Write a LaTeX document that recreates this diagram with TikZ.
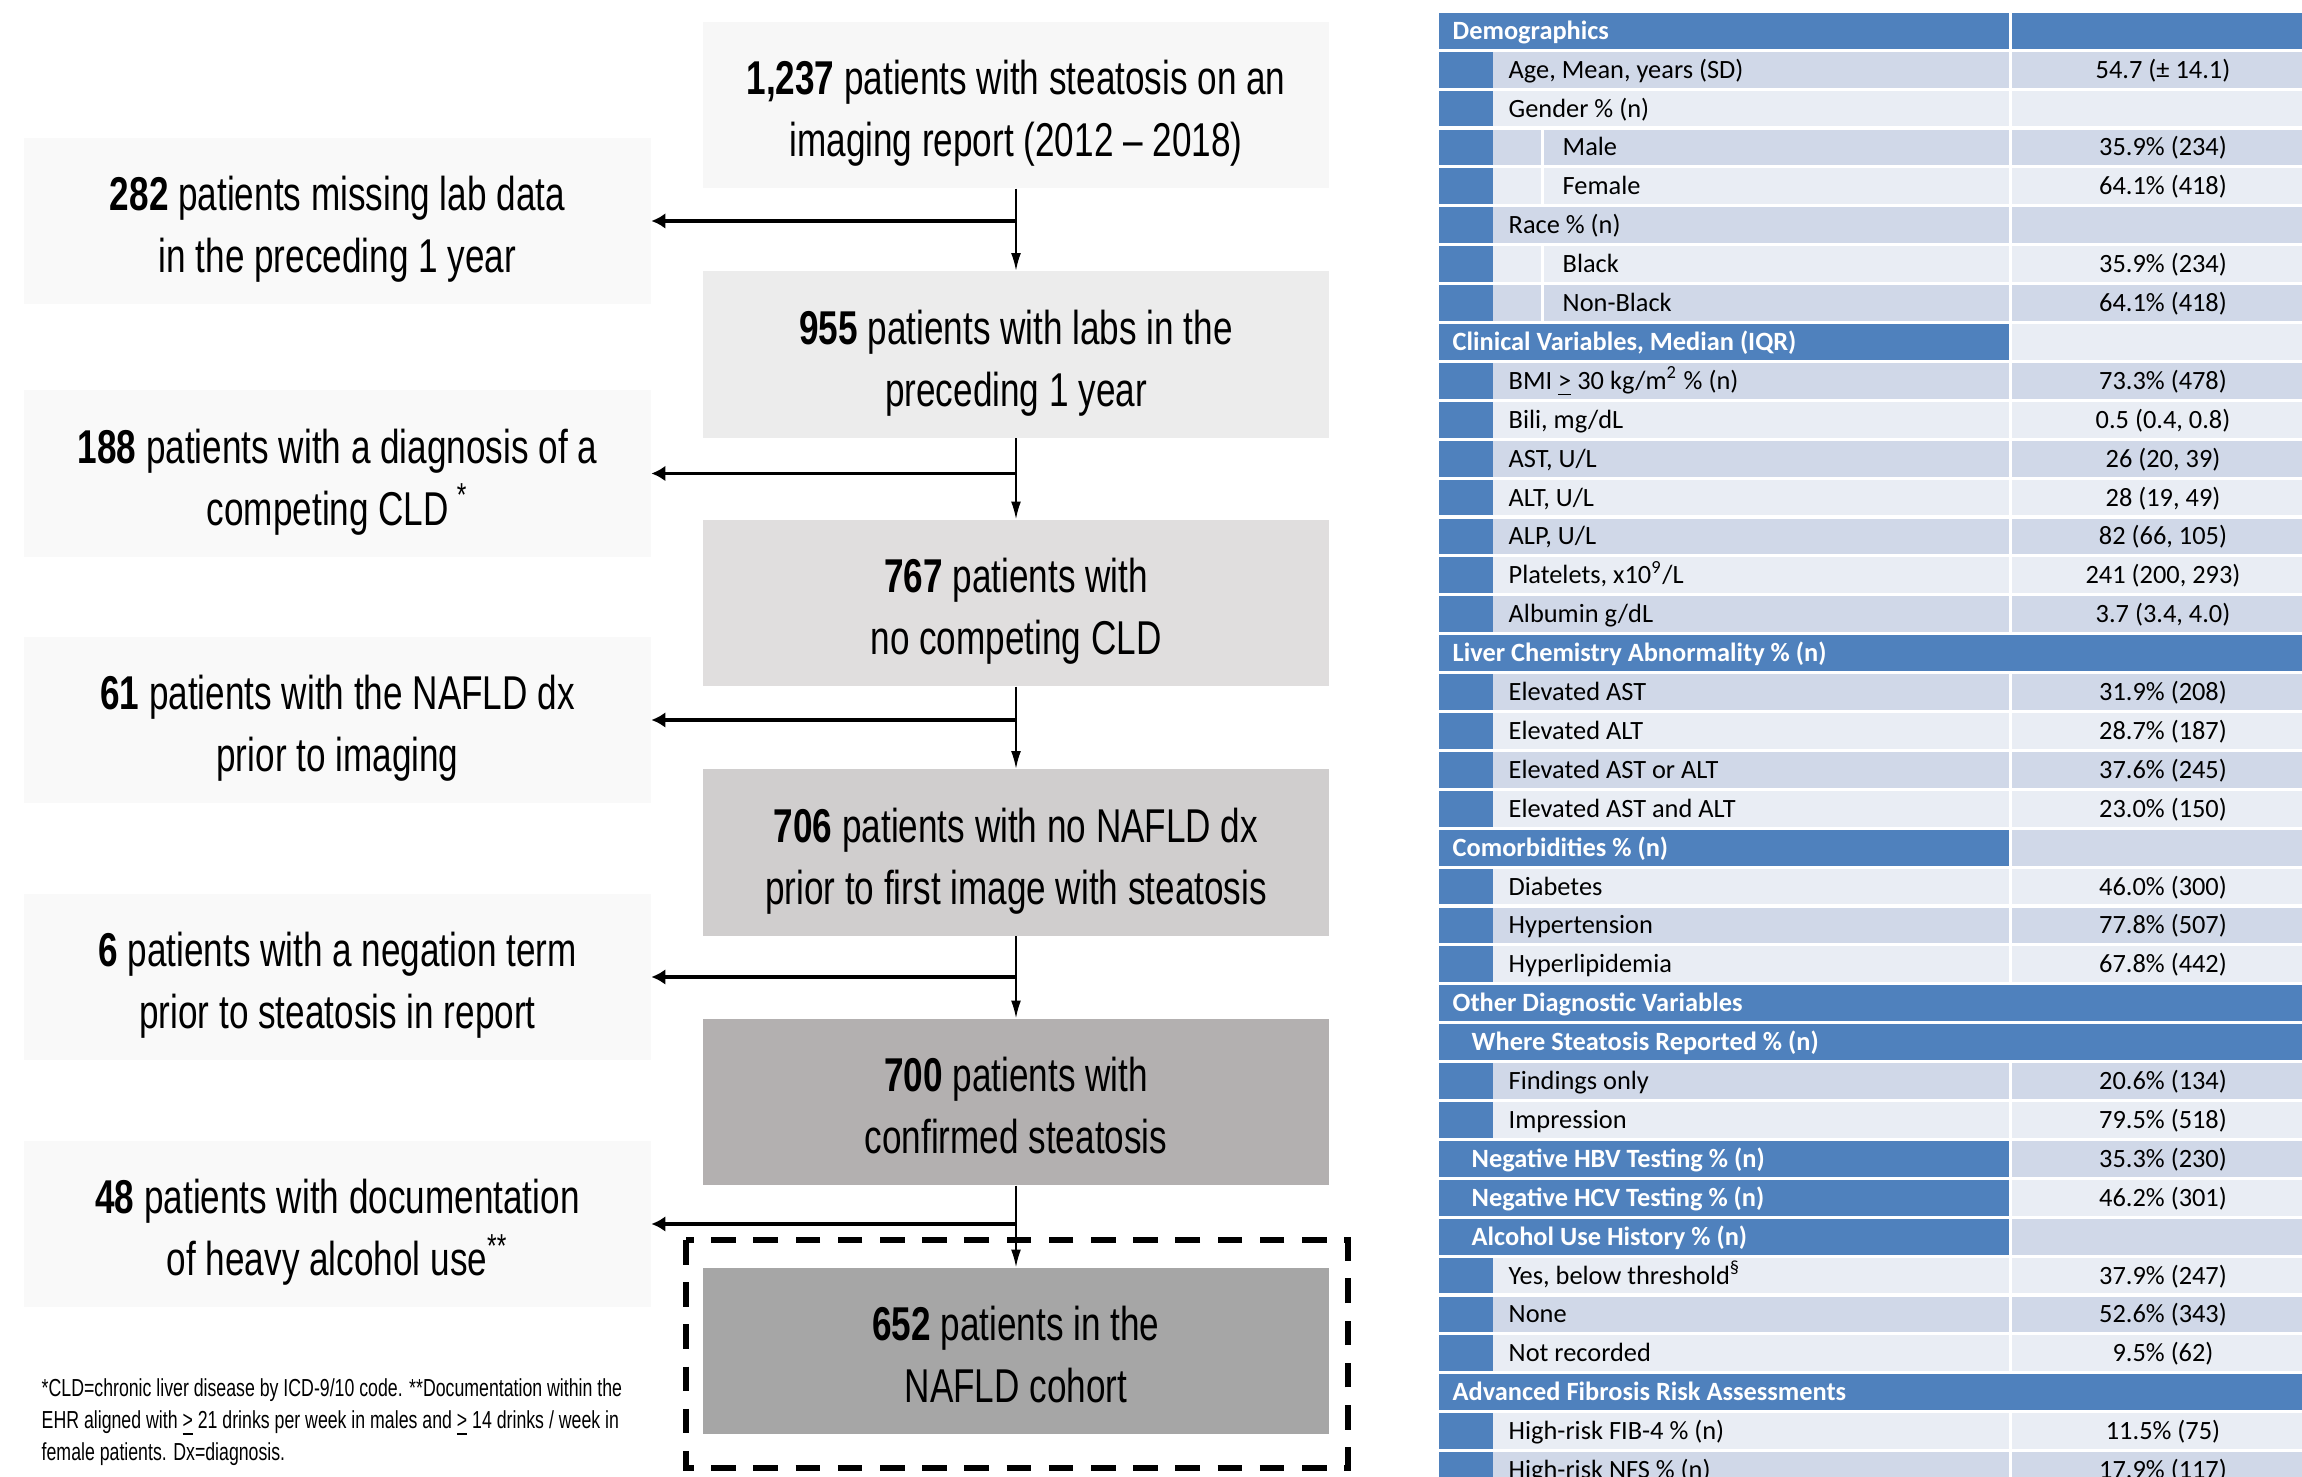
\documentclass[tikz,border=0pt]{standalone}
\usepackage{fontspec}
\usepackage{tikz}
\usetikzlibrary{arrows.meta, positioning}
\newfontfamily\flowfont{Liberation Sans}[FakeStretch=0.74]
\newfontfamily\notefont{Liberation Sans}[FakeStretch=0.72]
\newfontfamily\tabfont{Carlito}
\definecolor{stepA}{RGB}{247,247,247}
\definecolor{stepB}{RGB}{236,236,236}
\definecolor{stepC}{RGB}{224,222,222}
\definecolor{stepD}{RGB}{208,206,206}
\definecolor{stepE}{RGB}{179,176,176}
\definecolor{stepF}{RGB}{166,166,166}
\definecolor{exclgray}{RGB}{249,249,249}
\definecolor{hdrblue}{RGB}{79,129,189}
\definecolor{rowdark}{RGB}{208,216,232}
\definecolor{rowlight}{RGB}{233,237,244}

% table rows: #1 index, #2 shade, #3 level, #4 label, #5 value
\newcommand{\datarow}[5]{%
  \pgfmathsetmacro{\rowy}{30.8+38.9*#1}
  \fill[#2] (1439,\rowy-17.9) rectangle (2009,\rowy+17.9);
  \fill[#2] (2012,\rowy-17.9) rectangle (2302,\rowy+17.9);
  \fill[hdrblue] (1439,\rowy-17.9) rectangle (1493,\rowy+17.9);
  \ifnum#3=2
    \fill[white] (1541,\rowy-17.9) rectangle (1544,\rowy+17.9);
    \node[celltext] (lab#1) at (1562,\rowy+8.5) {#4};
  \else
    \node[celltext] (lab#1) at (1508,\rowy+8.5) {#4};
  \fi
  \node[valtext] (val#1) at (2163,\rowy+8.5) {#5};
}
% header rows: #1 index, #2 text x, #3 shade of value cell, #4 label
\newcommand{\hdrrow}[4]{%
  \pgfmathsetmacro{\rowy}{30.8+38.9*#1}
  \fill[hdrblue] (1439,\rowy-17.9) rectangle (2009,\rowy+17.9);
  \fill[#3] (2012,\rowy-17.9) rectangle (2302,\rowy+17.9);
  \node[hdrtext] (lab#1) at (#2,\rowy+8.5) {#4};
}
\newcommand{\spanrow}[3]{%
  \pgfmathsetmacro{\rowy}{30.8+38.9*#1}
  \fill[hdrblue] (1439,\rowy-17.9) rectangle (2302,\rowy+17.9);
  \node[hdrtext] (lab#1) at (#2,\rowy+8.5) {#3};
}

\begin{document}
\begin{tikzpicture}[
  x=0.01cm, y=-0.01cm,
  flowbox/.style={minimum width=6.26cm, minimum height=1.66cm,
    inner sep=0pt, align=center, text height=29.5pt, text depth=0pt,
    font=\flowfont\fontsize{13.5}{17.6}\selectfont},
  stepbox/.style={flowbox},
  exclbox/.style={flowbox, fill=exclgray},
  vline/.style={line width=0.5pt, -{Latex[length=5pt,width=2.8pt]}},
  hline/.style={line width=1pt, -{Latex[length=4pt,width=4.5pt]}},
  cohortframe/.style={line width=1.8pt, dash pattern=on 7pt off 5pt},
  celltext/.style={anchor=base west, inner sep=0pt,
    font=\tabfont\fontsize{7.5}{9}\selectfont},
  hdrtext/.style={celltext, text=white,
    font=\tabfont\bfseries\fontsize{7.5}{9}\selectfont},
  valtext/.style={anchor=base, inner sep=0pt,
    font=\tabfont\fontsize{7.5}{9}\selectfont}
  ]
  \useasboundingbox (0,0) rectangle (2302,1477);

  % main flow
  \node[stepbox, fill=stepA] (total) at (1016,105)
    {\textbf{1,237} patients with steatosis on an\\imaging report (2012 – 2018)};
  \node[stepbox, fill=stepB] (labs) at (1016,354.5)
    {\textbf{955} patients with labs in the\\preceding 1 year};
  \node[stepbox, fill=stepC] (nocld) at (1016,603)
    {\textbf{767} patients with\\no competing CLD};
  \node[stepbox, fill=stepD] (nonafld) at (1016,852.5)
    {\textbf{706} patients with no NAFLD dx\\prior to first image with steatosis};
  \node[stepbox, fill=stepE] (confirmed) at (1016,1102)
    {\textbf{700} patients with\\confirmed steatosis};
  \node[stepbox, fill=stepF] (cohort) at (1016,1351)
    {\textbf{652} patients in the\\NAFLD cohort};

  % exclusions
  \node[exclbox] (misslab) at (337.5,221)
    {\textbf{282} patients missing lab data\\in the preceding 1 year};
  \node[exclbox] (cld) at (337.5,473.5)
    {\textbf{188} patients with a diagnosis of a\\competing CLD\,\textsuperscript{*}};
  \node[exclbox] (priordx) at (337.5,720)
    {\textbf{61} patients with the NAFLD dx\\prior to imaging};
  \node[exclbox] (negation) at (337.5,977)
    {\textbf{6} patients with a negation term\\prior to steatosis in report};
  \node[exclbox] (alcohol) at (337.5,1224)
    {\textbf{48} patients with documentation\\of heavy alcohol use\textsuperscript{**}};

  \draw[cohortframe] (686,1240) rectangle (1348,1468);

  \draw[vline] (total) -- (labs);
  \draw[vline] (labs) -- (nocld);
  \draw[vline] (nocld) -- (nonafld);
  \draw[vline] (nonafld) -- (confirmed);
  \draw[vline] (confirmed) -- (cohort);
  \draw[hline] (total.south |- misslab.east) -- (misslab.east);
  \draw[hline] (labs.south |- cld.east) -- (cld.east);
  \draw[hline] (nocld.south |- priordx.east) -- (priordx.east);
  \draw[hline] (nonafld.south |- negation.east) -- (negation.east);
  \draw[hline] (confirmed.south |- alcohol.east) -- (alcohol.east);

  \node[anchor=base west, align=left, inner sep=0pt,
    font=\notefont\fontsize{7}{9.1}\selectfont] (notes) at (41,1461)
    {*CLD=chronic liver disease by ICD-9/10 code. **Documentation within the\\
     EHR aligned with \underline{>} 21 drinks per week in males and \underline{>} 14 drinks / week in\\
     female patients. Dx=diagnosis.};

  % characteristics table
  \hdrrow{0}{1452}{hdrblue}{Demographics}
  \datarow{1}{rowdark}{1}{Age, Mean, years (SD)}{54.7 (± 14.1)}
  \datarow{2}{rowlight}{1}{Gender \% (n)}{}
  \datarow{3}{rowdark}{2}{Male}{35.9\% (234)}
  \datarow{4}{rowlight}{2}{Female}{64.1\% (418)}
  \datarow{5}{rowdark}{1}{Race \% (n)}{}
  \datarow{6}{rowlight}{2}{Black}{35.9\% (234)}
  \datarow{7}{rowdark}{2}{Non-Black}{64.1\% (418)}
  \hdrrow{8}{1452}{rowlight}{Clinical Variables, Median (IQR)}
  \datarow{9}{rowdark}{1}{BMI \underline{>} 30 kg/m\textsuperscript{2} \% (n)}{73.3\% (478)}
  \datarow{10}{rowlight}{1}{Bili, mg/dL}{0.5 (0.4, 0.8)}
  \datarow{11}{rowdark}{1}{AST, U/L}{26 (20, 39)}
  \datarow{12}{rowlight}{1}{ALT, U/L}{28 (19, 49)}
  \datarow{13}{rowdark}{1}{ALP, U/L}{82 (66, 105)}
  \datarow{14}{rowlight}{1}{Platelets, x10\textsuperscript{9}/L}{241 (200, 293)}
  \datarow{15}{rowdark}{1}{Albumin g/dL}{3.7 (3.4, 4.0)}
  \spanrow{16}{1452}{Liver Chemistry Abnormality \% (n)}
  \datarow{17}{rowdark}{1}{Elevated AST}{31.9\% (208)}
  \datarow{18}{rowlight}{1}{Elevated ALT}{28.7\% (187)}
  \datarow{19}{rowdark}{1}{Elevated AST or ALT}{37.6\% (245)}
  \datarow{20}{rowlight}{1}{Elevated AST and ALT}{23.0\% (150)}
  \hdrrow{21}{1452}{rowdark}{Comorbidities \% (n)}
  \datarow{22}{rowlight}{1}{Diabetes}{46.0\% (300)}
  \datarow{23}{rowdark}{1}{Hypertension}{77.8\% (507)}
  \datarow{24}{rowlight}{1}{Hyperlipidemia}{67.8\% (442)}
  \spanrow{25}{1452}{Other Diagnostic Variables}
  \spanrow{26}{1471}{Where Steatosis Reported \% (n)}
  \datarow{27}{rowdark}{1}{Findings only}{20.6\% (134)}
  \datarow{28}{rowlight}{1}{Impression}{79.5\% (518)}
  \hdrrow{29}{1471}{rowdark}{Negative HBV Testing \% (n)}
  \node[valtext] (val29) at (2163,30.8+38.9*29+8.5) {35.3\% (230)};
  \hdrrow{30}{1471}{rowlight}{Negative HCV Testing \% (n)}
  \node[valtext] (val30) at (2163,30.8+38.9*30+8.5) {46.2\% (301)};
  \hdrrow{31}{1471}{rowdark}{Alcohol Use History \% (n)}
  \datarow{32}{rowlight}{1}{Yes, below threshold\textsuperscript{§}}{37.9\% (247)}
  \datarow{33}{rowdark}{1}{None}{52.6\% (343)}
  \datarow{34}{rowlight}{1}{Not recorded}{9.5\% (62)}
  \spanrow{35}{1452}{Advanced Fibrosis Risk Assessments}
  \datarow{36}{rowlight}{1}{High-risk FIB-4 \% (n)}{11.5\% (75)}
  \datarow{37}{rowdark}{1}{High-risk NFS \% (n)}{17.9\% (117)}
\end{tikzpicture}
\end{document}
